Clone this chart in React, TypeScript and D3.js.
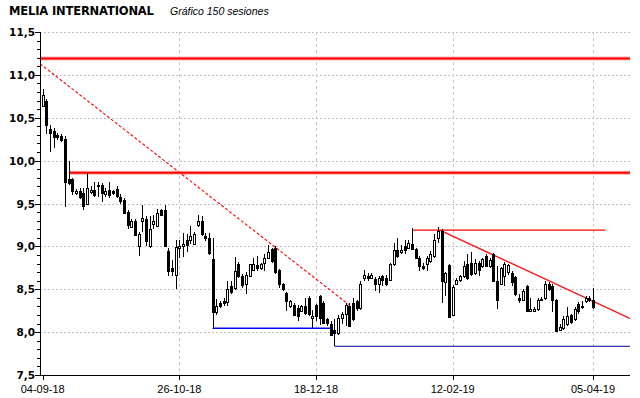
import React from "react";
import * as d3 from "d3";

// OHLC of the 150 sessions
const openPx = [
  10.64, 10.69, 10.37, 10.35, 10.3, 10.29, 10.25, 9.78, 9.78, 9.62,
  9.64, 9.62, 9.49, 9.63, 9.66, 9.72, 9.71, 9.61, 9.66, 9.64,
  9.67, 9.57, 9.54, 9.4, 9.23, 9.3, 9.01, 9.3, 9.32, 9.0,
  9.26, 9.24, 9.42, 9.43, 8.95, 8.75, 8.67, 8.98, 9.0, 9.08,
  9.07, 9.03, 9.25, 9.3, 9.12, 9.1, 8.85, 8.23, 8.34, 8.36,
  8.35, 8.54, 8.51, 8.79, 8.65, 8.56, 8.66, 8.73, 8.78, 8.75,
  8.81, 8.87, 8.97, 8.98, 8.72, 8.56, 8.46, 8.3, 8.32, 8.28,
  8.25, 8.3, 8.4, 8.17, 8.32, 8.42, 8.34, 8.15, 8.09, 8.03,
  7.99, 8.17, 8.21, 8.3, 8.34, 8.36, 8.28, 8.63, 8.66, 8.63,
  8.62, 8.56, 8.65, 8.63, 8.61, 8.79, 8.96, 8.93, 9.01, 8.98,
  9.03, 8.97, 8.86, 8.77, 8.79, 8.83, 8.89, 9.1, 9.18, 8.58,
  8.78, 8.2, 8.56, 8.61, 8.65, 8.79, 8.81, 8.69, 8.81, 8.77,
  8.89, 8.77, 8.91, 8.6, 8.56, 8.66, 8.7, 8.69, 8.64, 8.4,
  8.38, 8.54, 8.25, 8.25, 8.27, 8.38, 8.4, 8.56, 8.54, 8.38,
  8.03, 8.05, 8.09, 8.2, 8.15, 8.33, 8.29, 8.36, 8.4, 8.38,
];
const highPx = [
  10.83, 10.72, 10.42, 10.38, 10.32, 10.31, 10.29, 10.0, 9.8, 9.67,
  9.68, 9.68, 9.86, 9.7, 9.75, 9.75, 9.74, 9.68, 9.75, 9.66,
  9.7, 9.61, 9.56, 9.42, 9.32, 9.32, 9.17, 9.48, 9.35, 9.36,
  9.37, 9.44, 9.44, 9.48, 8.98, 8.84, 9.08, 9.08, 9.16, 9.14,
  9.24, 9.17, 9.37, 9.36, 9.16, 9.16, 9.1, 8.39, 8.36, 8.4,
  8.6, 8.6, 8.88, 8.82, 8.68, 8.7, 8.8, 8.86, 8.89, 8.81,
  8.91, 9.02, 8.98, 9.0, 8.74, 8.57, 8.47, 8.38, 8.34, 8.32,
  8.32, 8.4, 8.42, 8.26, 8.33, 8.43, 8.36, 8.17, 8.13, 8.15,
  8.2, 8.23, 8.34, 8.34, 8.4, 8.38, 8.6, 8.73, 8.69, 8.69,
  8.64, 8.65, 8.67, 8.67, 8.81, 9.04, 9.1, 9.02, 9.08, 9.08,
  9.21, 8.98, 8.89, 8.81, 8.89, 8.95, 9.14, 9.23, 9.2, 8.7,
  8.8, 8.55, 8.63, 8.67, 8.83, 8.91, 8.93, 8.85, 8.83, 8.87,
  8.91, 8.87, 8.92, 8.77, 8.76, 8.82, 8.8, 8.71, 8.66, 8.44,
  8.5, 8.55, 8.4, 8.29, 8.4, 8.41, 8.6, 8.58, 8.56, 8.39,
  8.09, 8.19, 8.29, 8.21, 8.29, 8.35, 8.36, 8.42, 8.42, 8.52,
];
const lowPx = [
  10.62, 10.31, 10.1, 10.15, 10.24, 10.22, 9.46, 9.72, 9.6, 9.6,
  9.55, 9.43, 9.48, 9.61, 9.58, 9.58, 9.52, 9.58, 9.56, 9.6,
  9.56, 9.5, 9.38, 9.2, 9.21, 9.12, 8.89, 9.17, 9.0, 8.98,
  9.2, 9.23, 9.35, 8.99, 8.66, 8.66, 8.5, 8.86, 8.88, 8.93,
  9.03, 9.02, 9.23, 9.12, 9.06, 8.9, 8.04, 8.2, 8.28, 8.3,
  8.3, 8.45, 8.49, 8.63, 8.52, 8.45, 8.64, 8.72, 8.71, 8.73,
  8.71, 8.85, 8.81, 8.68, 8.52, 8.48, 8.25, 8.28, 8.19, 8.13,
  8.23, 8.2, 8.19, 8.05, 8.13, 8.08, 8.1, 8.07, 7.95, 7.84,
  7.97, 8.1, 8.07, 8.06, 8.13, 8.25, 8.26, 8.6, 8.6, 8.62,
  8.48, 8.46, 8.54, 8.54, 8.6, 8.77, 8.87, 8.91, 8.91, 8.97,
  8.96, 8.85, 8.71, 8.73, 8.71, 8.81, 8.87, 9.04, 8.34, 8.42,
  8.17, 8.19, 8.55, 8.58, 8.63, 8.61, 8.65, 8.67, 8.65, 8.75,
  8.76, 8.75, 8.58, 8.27, 8.55, 8.54, 8.67, 8.54, 8.42, 8.34,
  8.36, 8.23, 8.23, 8.23, 8.25, 8.36, 8.38, 8.48, 8.23, 8.0,
  8.01, 8.03, 8.07, 8.1, 8.13, 8.21, 8.27, 8.34, 8.35, 8.27,
];
const closePx = [
  10.77, 10.42, 10.32, 10.27, 10.27, 10.24, 9.75, 9.74, 9.64, 9.65,
  9.58, 9.47, 9.68, 9.66, 9.6, 9.7, 9.62, 9.64, 9.6, 9.62,
  9.59, 9.53, 9.39, 9.25, 9.3, 9.13, 9.15, 9.33, 9.06, 9.2,
  9.3, 9.39, 9.37, 9.0, 8.71, 8.71, 8.99, 9.01, 9.03, 9.02,
  9.12, 9.15, 9.3, 9.15, 9.1, 8.92, 8.23, 8.31, 8.31, 8.34,
  8.5, 8.47, 8.71, 8.66, 8.55, 8.67, 8.79, 8.8, 8.75, 8.8,
  8.87, 8.93, 8.83, 8.7, 8.56, 8.5, 8.36, 8.36, 8.2, 8.19,
  8.3, 8.22, 8.21, 8.19, 8.19, 8.17, 8.11, 8.11, 7.97, 7.99,
  8.17, 8.21, 8.32, 8.07, 8.15, 8.28, 8.56, 8.67, 8.63, 8.67,
  8.56, 8.63, 8.61, 8.56, 8.79, 8.96, 8.89, 8.96, 8.96, 9.04,
  8.97, 8.86, 8.77, 8.75, 8.87, 8.91, 9.08, 9.18, 8.6, 8.69,
  8.18, 8.53, 8.61, 8.65, 8.77, 8.63, 8.68, 8.81, 8.73, 8.85,
  8.77, 8.84, 8.6, 8.38, 8.75, 8.79, 8.78, 8.58, 8.44, 8.38,
  8.48, 8.25, 8.27, 8.27, 8.38, 8.39, 8.56, 8.5, 8.38, 8.01,
  8.06, 8.15, 8.19, 8.12, 8.27, 8.25, 8.31, 8.4, 8.37, 8.29,
];

const dateTickIdx = [0, 37, 74, 111, 149];
const dateTickLabels = ["04-09-18", "26-10-18", "18-12-18", "12-02-19", "05-04-19"];
const priceTicks = [7.5, 8, 8.5, 9, 9.5, 10, 10.5, 11, 11.5];

// drawn analysis lines: [session index, price] pairs
const resistanceLines = [
  { from: [-1, 11.19], to: [170, 11.19] },
  { from: [7.2, 9.86], to: [170, 9.86] },
];
const dashedTrend = { from: [-0.73, 11.13], to: [83.2, 8.31] };
const topLine = { from: [100, 9.19], to: [152.3, 9.19] };
const downTrend = { from: [107.5, 9.19], to: [159, 8.16] };
const supportLine = { from: [46, 8.045], to: [77.8, 8.045] };
const lowLine = { from: [79, 7.835], to: [170, 7.835] };

const W = 640;
const H = 398;
const left = 40;
const right = 630;
const top = 32;
const bottom = 375;

const candles = openPx.map((o, i) => ({
  i,
  o,
  h: highPx[i],
  l: lowPx[i],
  c: closePx[i],
}));

export default function App() {
  const x = d3.scaleLinear().domain([0, 149]).range([42.7, 593]);
  const y = d3.scaleLinear().domain([7.5, 11.5]).range([bottom, top]);
  const minor = d3.range(7.5, 11.501, 0.1);

  const seg = (ln: { from: number[]; to: number[] }) =>
    d3.line()([
      [x(ln.from[0]), y(ln.from[1])],
      [x(ln.to[0]), y(ln.to[1])],
    ]) as string;

  return (
    <svg
      width={W}
      height={H}
      style={{ position: "absolute", left: 0, top: 0, background: "#fff" }}
    >
      <defs>
        <clipPath id="plot">
          <rect x={left} y={top - 2} width={right - left} height={bottom - top + 2} />
        </clipPath>
      </defs>

      <text x={9} y={15} fontFamily="DejaVu Sans" fontWeight="bold" fontSize={11.5} letterSpacing={-0.15} fill="#000">
        MELIA INTERNATIONAL
      </text>
      <text x={170} y={15} fontFamily="Liberation Sans" fontStyle="italic" fontSize={10.5} fill="#000">
        Gráfico 150 sesiones
      </text>

      {/* grid */}
      {priceTicks.map((p) => (
        <line
          key={"h" + p}
          x1={left}
          x2={right}
          y1={Math.round(y(p)) + 0.5}
          y2={Math.round(y(p)) + 0.5}
          stroke="#c4bccc"
          strokeDasharray="2,2"
        />
      ))}
      {dateTickIdx.slice(1).map((t) => (
        <line
          key={"v" + t}
          x1={Math.round(x(t)) + 0.5}
          x2={Math.round(x(t)) + 0.5}
          y1={top}
          y2={bottom}
          stroke="#c8c8c8"
          strokeDasharray="3,3"
        />
      ))}

      <g clipPath="url(#plot)">
        {resistanceLines.map((ln, k) => (
          <g key={"r" + k}>
            <path d={seg(ln)} stroke="#ffb4b4" strokeWidth={4} fill="none" />
            <path d={seg(ln)} stroke="#ff0000" strokeWidth={2} fill="none" />
          </g>
        ))}
        <path d={seg(dashedTrend)} stroke="#ff0000" strokeWidth={1.1} strokeDasharray="3,2" fill="none" />
        <path d={seg(topLine)} stroke="#ff0000" strokeWidth={1.4} fill="none" />
        <path d={seg(downTrend)} stroke="#ff1010" strokeWidth={1.4} fill="none" />
        <path d={seg(supportLine)} stroke="#0000ff" strokeWidth={1.5} fill="none" />
        <path d={seg(lowLine)} stroke="#000090" strokeWidth={1.2} fill="none" />
      </g>

      {/* candles */}
      {candles.map((d) => {
        const cx = Math.round(x(d.i));
        const up = d.c >= d.o;
        const t = Math.round(y(Math.max(d.o, d.c)));
        const b = Math.round(y(Math.min(d.o, d.c)));
        return (
          <g key={d.i}>
            <line
              x1={cx + 0.5}
              x2={cx + 0.5}
              y1={Math.round(y(d.h))}
              y2={Math.round(y(d.l))}
              stroke="#000"
            />
            {up ? (
              <rect
                x={cx - 0.5}
                y={t + 0.5}
                width={2}
                height={Math.max(1, b - t)}
                fill="#fff"
                stroke="#000"
              />
            ) : (
              <rect x={cx - 1} y={t} width={3} height={Math.max(1, b - t + 1)} fill="#000" />
            )}
          </g>
        );
      })}

      {/* axes */}
      <line x1={left + 0.5} x2={left + 0.5} y1={top} y2={bottom + 1} stroke="#000" />
      <line x1={left} x2={right} y1={bottom + 0.5} y2={bottom + 0.5} stroke="#000" />
      {minor.map((p, k) => (
        <line
          key={"m" + k}
          x1={k % 5 === 0 ? left - 5 : left - 3}
          x2={left}
          y1={Math.round(y(p)) + 0.5}
          y2={Math.round(y(p)) + 0.5}
          stroke="#000"
        />
      ))}
      {priceTicks.map((p) => (
        <text
          key={"yl" + p}
          x={35}
          y={y(p) + 4}
          textAnchor="end"
          fontFamily="DejaVu Sans"
          fontWeight="bold"
          fontSize={10.5}
          fill="#000"
        >
          {d3.format(".1f")(p).replace(".", ",")}
        </text>
      ))}
      {dateTickIdx.map((t, k) => (
        <g key={"xt" + t}>
          <line
            x1={Math.round(x(t)) + 0.5}
            x2={Math.round(x(t)) + 0.5}
            y1={bottom}
            y2={bottom + 5}
            stroke="#000"
          />
          <text
            x={x(t)}
            y={393}
            textAnchor="middle"
            fontFamily="Liberation Sans"
            fontSize={11}
            fill="#000"
          >
            {dateTickLabels[k]}
          </text>
        </g>
      ))}
    </svg>
  );
}
